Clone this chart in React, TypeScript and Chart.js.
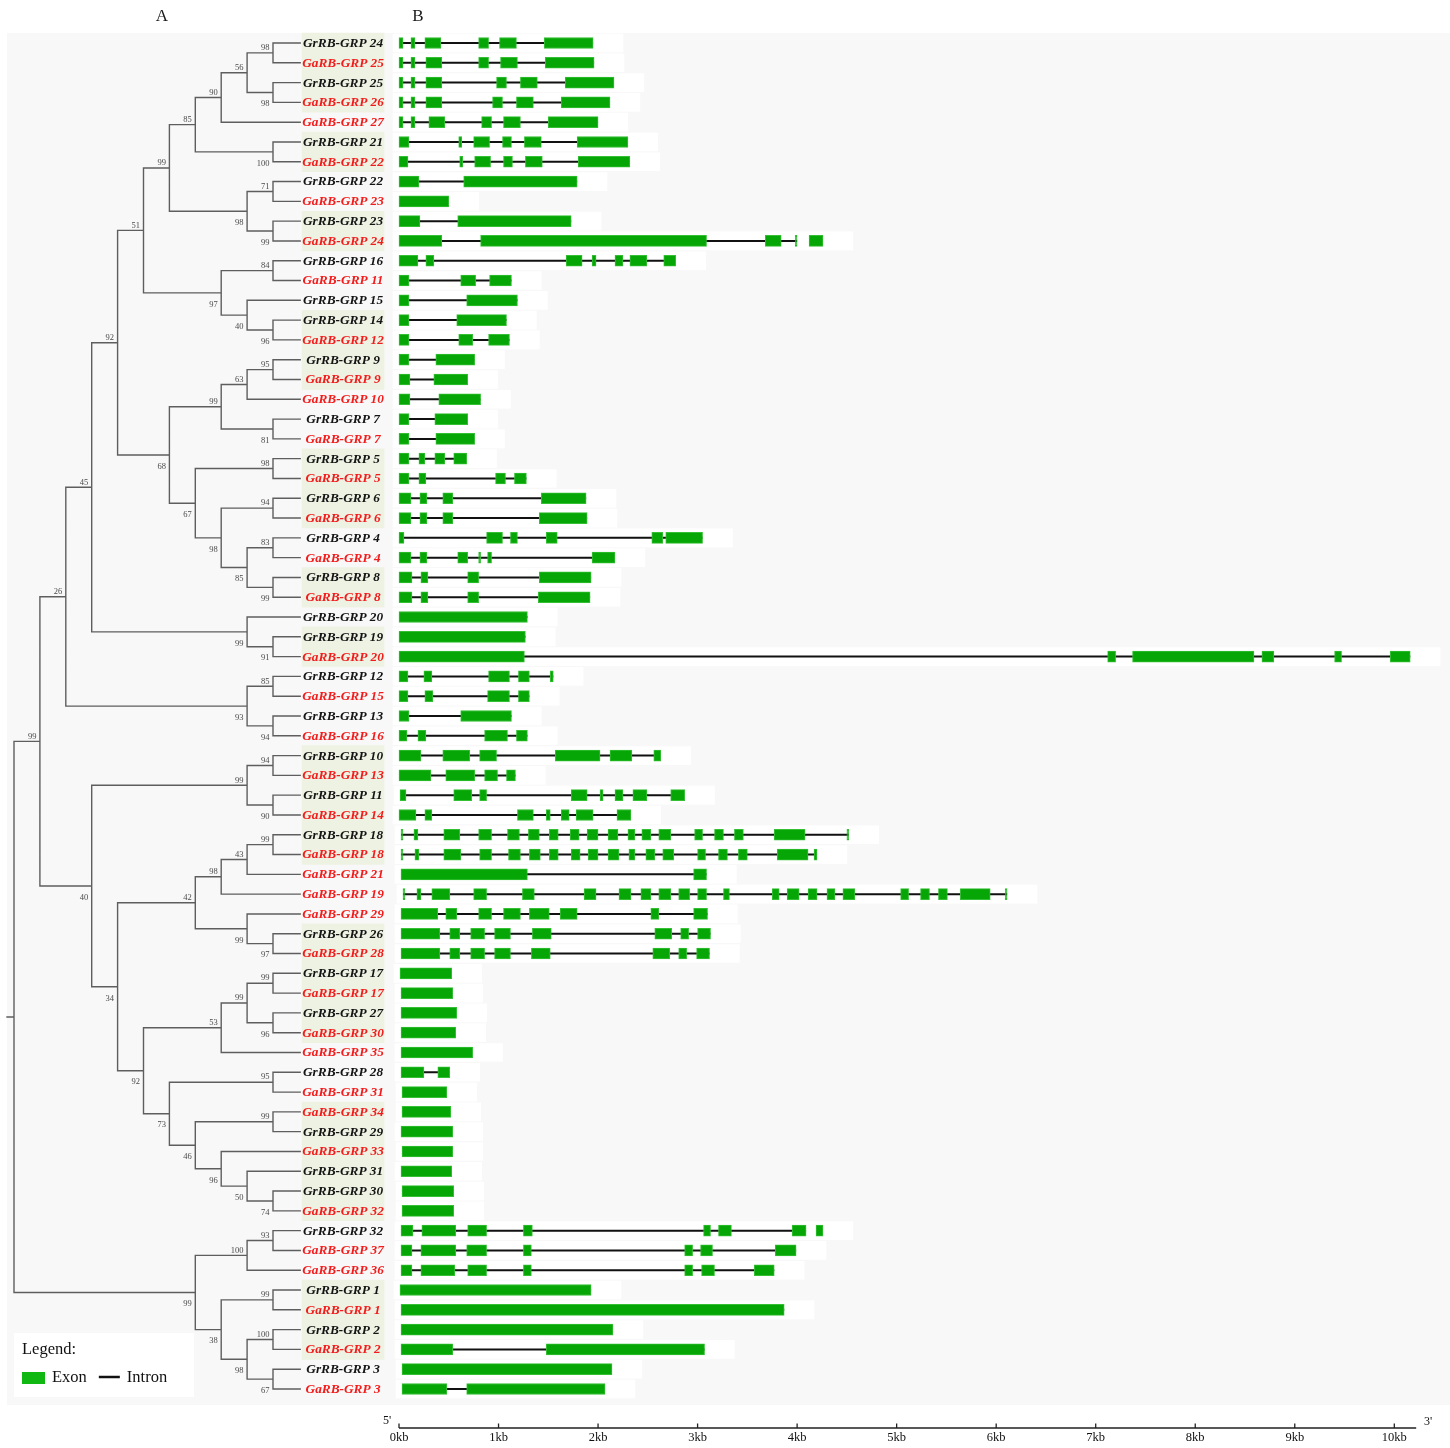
import React, { useEffect, useRef } from 'react';
import { Chart, registerables } from 'chart.js';

Chart.register(...registerables);

// ---------------- DATA ----------------
const GENE_NAMES: string[] = [
  'GrRB-GRP 24', 'GaRB-GRP 25', 'GrRB-GRP 25', 'GaRB-GRP 26', 'GaRB-GRP 27',
  'GrRB-GRP 21', 'GaRB-GRP 22', 'GrRB-GRP 22', 'GaRB-GRP 23', 'GrRB-GRP 23',
  'GaRB-GRP 24', 'GrRB-GRP 16', 'GaRB-GRP 11', 'GrRB-GRP 15', 'GrRB-GRP 14',
  'GaRB-GRP 12', 'GrRB-GRP 9', 'GaRB-GRP 9', 'GaRB-GRP 10', 'GrRB-GRP 7',
  'GaRB-GRP 7', 'GrRB-GRP 5', 'GaRB-GRP 5', 'GrRB-GRP 6', 'GaRB-GRP 6',
  'GrRB-GRP 4', 'GaRB-GRP 4', 'GrRB-GRP 8', 'GaRB-GRP 8', 'GrRB-GRP 20',
  'GrRB-GRP 19', 'GaRB-GRP 20', 'GrRB-GRP 12', 'GaRB-GRP 15', 'GrRB-GRP 13',
  'GaRB-GRP 16', 'GrRB-GRP 10', 'GaRB-GRP 13', 'GrRB-GRP 11', 'GaRB-GRP 14',
  'GrRB-GRP 18', 'GaRB-GRP 18', 'GaRB-GRP 21', 'GaRB-GRP 19', 'GaRB-GRP 29',
  'GrRB-GRP 26', 'GaRB-GRP 28', 'GrRB-GRP 17', 'GaRB-GRP 17', 'GrRB-GRP 27',
  'GaRB-GRP 30', 'GaRB-GRP 35', 'GrRB-GRP 28', 'GaRB-GRP 31', 'GaRB-GRP 34',
  'GrRB-GRP 29', 'GaRB-GRP 33', 'GrRB-GRP 31', 'GrRB-GRP 30', 'GaRB-GRP 32',
  'GrRB-GRP 32', 'GaRB-GRP 37', 'GaRB-GRP 36', 'GrRB-GRP 1', 'GaRB-GRP 1',
  'GrRB-GRP 2', 'GaRB-GRP 2', 'GrRB-GRP 3', 'GaRB-GRP 3',
];

// exon [start, end] in kb, one list per gene (same order as GENE_NAMES)
const EXONS: number[][][] = [
  [[0, 0.04], [0.12, 0.16], [0.26, 0.42], [0.8, 0.9], [1.01, 1.18], [1.46, 1.95]],
  [[0, 0.04], [0.12, 0.16], [0.27, 0.43], [0.8, 0.9], [1.02, 1.19], [1.47, 1.96]],
  [[0, 0.04], [0.12, 0.16], [0.27, 0.43], [0.98, 1.08], [1.22, 1.39], [1.67, 2.16]],
  [[0, 0.04], [0.12, 0.16], [0.27, 0.43], [0.94, 1.04], [1.18, 1.35], [1.63, 2.12]],
  [[0, 0.04], [0.12, 0.16], [0.3, 0.46], [0.83, 0.93], [1.05, 1.22], [1.5, 2.0]],
  [[0, 0.1], [0.6, 0.63], [0.75, 0.91], [1.04, 1.13], [1.26, 1.43], [1.79, 2.3]],
  [[0, 0.09], [0.61, 0.64], [0.76, 0.92], [1.05, 1.14], [1.27, 1.44], [1.8, 2.32]],
  [[0, 0.2], [0.65, 1.79]],
  [[0, 0.5]],
  [[0, 0.21], [0.59, 1.73]],
  [[0, 0.43], [0.82, 3.09], [3.68, 3.84], [3.98, 4.0], [4.12, 4.26]],
  [[0, 0.19], [0.27, 0.35], [1.68, 1.84], [1.94, 1.98], [2.17, 2.25], [2.32, 2.49], [2.66, 2.78]],
  [[0, 0.1], [0.62, 0.77], [0.91, 1.13]],
  [[0, 0.1], [0.68, 1.19]],
  [[0, 0.1], [0.58, 1.08]],
  [[0, 0.1], [0.6, 0.74], [0.9, 1.11]],
  [[0, 0.1], [0.37, 0.76]],
  [[0, 0.11], [0.35, 0.69]],
  [[0, 0.11], [0.4, 0.82]],
  [[0, 0.1], [0.36, 0.69]],
  [[0, 0.1], [0.37, 0.76]],
  [[0, 0.1], [0.2, 0.26], [0.36, 0.46], [0.55, 0.68]],
  [[0, 0.1], [0.2, 0.27], [0.97, 1.07], [1.16, 1.28]],
  [[0, 0.12], [0.21, 0.28], [0.44, 0.54], [1.43, 1.88]],
  [[0, 0.12], [0.21, 0.28], [0.44, 0.54], [1.41, 1.89]],
  [[0, 0.05], [0.88, 1.04], [1.12, 1.19], [1.48, 1.59], [2.54, 2.65], [2.68, 3.05]],
  [[0, 0.12], [0.21, 0.28], [0.59, 0.69], [0.8, 0.82], [0.89, 0.93], [1.94, 2.17]],
  [[0, 0.13], [0.22, 0.29], [0.69, 0.8], [1.41, 1.93]],
  [[0, 0.13], [0.22, 0.29], [0.69, 0.8], [1.4, 1.92]],
  [[0, 1.29]],
  [[0, 1.27]],
  [[0, 1.26], [7.12, 7.2], [7.37, 8.59], [8.67, 8.79], [9.4, 9.47], [9.96, 10.16]],
  [[0, 0.09], [0.25, 0.33], [0.9, 1.11], [1.2, 1.31], [1.52, 1.55]],
  [[0, 0.09], [0.26, 0.34], [0.89, 1.11], [1.2, 1.31]],
  [[0, 0.1], [0.62, 1.13]],
  [[0, 0.08], [0.19, 0.27], [0.86, 1.09], [1.18, 1.29]],
  [[0, 0.22], [0.44, 0.71], [0.81, 0.98], [1.57, 2.02], [2.12, 2.34], [2.56, 2.63]],
  [[0, 0.32], [0.47, 0.76], [0.86, 0.99], [1.08, 1.17]],
  [[0.01, 0.07], [0.55, 0.73], [0.81, 0.88], [1.73, 1.89], [2.02, 2.05], [2.17, 2.25], [2.35, 2.49], [2.73, 2.87]],
  [[0, 0.17], [0.26, 0.33], [1.19, 1.35], [1.48, 1.52], [1.63, 1.71], [1.78, 1.95], [2.19, 2.33]],
  [[0.02, 0.04], [0.15, 0.19], [0.45, 0.61], [0.8, 0.93], [1.09, 1.21], [1.3, 1.41], [1.51, 1.6], [1.72, 1.81], [1.89, 2.0], [2.1, 2.2], [2.3, 2.37], [2.44, 2.53], [2.61, 2.73], [2.97, 3.05], [3.17, 3.26], [3.37, 3.46], [3.77, 4.08], [4.5, 4.52]],
  [[0.02, 0.04], [0.16, 0.2], [0.45, 0.62], [0.81, 0.93], [1.1, 1.22], [1.31, 1.42], [1.51, 1.6], [1.73, 1.82], [1.9, 2.0], [2.1, 2.21], [2.31, 2.37], [2.48, 2.57], [2.65, 2.76], [3.0, 3.08], [3.21, 3.3], [3.41, 3.5], [3.8, 4.11], [4.17, 4.2]],
  [[0.02, 1.29], [2.96, 3.09]],
  [[0.04, 0.06], [0.18, 0.22], [0.33, 0.51], [0.75, 0.88], [1.24, 1.36], [1.86, 1.98], [2.21, 2.33], [2.43, 2.53], [2.61, 2.73], [2.81, 2.92], [3.0, 3.09], [3.26, 3.32], [3.75, 3.82], [3.9, 4.02], [4.11, 4.2], [4.3, 4.38], [4.46, 4.58], [5.04, 5.12], [5.24, 5.33], [5.42, 5.51], [5.64, 5.94], [6.09, 6.11]],
  [[0.02, 0.39], [0.47, 0.58], [0.8, 0.93], [1.05, 1.22], [1.31, 1.51], [1.62, 1.79], [2.53, 2.61], [2.96, 3.1]],
  [[0.02, 0.41], [0.51, 0.61], [0.72, 0.86], [0.96, 1.12], [1.34, 1.53], [2.57, 2.74], [2.83, 2.91], [3.0, 3.13]],
  [[0.02, 0.41], [0.51, 0.61], [0.72, 0.86], [0.96, 1.12], [1.33, 1.52], [2.55, 2.72], [2.81, 2.89], [2.99, 3.12]],
  [[0.01, 0.53]],
  [[0.02, 0.54]],
  [[0.02, 0.58]],
  [[0.02, 0.57]],
  [[0.02, 0.74]],
  [[0.02, 0.25], [0.39, 0.51]],
  [[0.03, 0.48]],
  [[0.03, 0.52]],
  [[0.02, 0.54]],
  [[0.03, 0.54]],
  [[0.02, 0.53]],
  [[0.03, 0.55]],
  [[0.03, 0.55]],
  [[0.02, 0.14], [0.23, 0.57], [0.69, 0.88], [1.25, 1.34], [3.06, 3.13], [3.21, 3.34], [3.95, 4.09], [4.19, 4.26]],
  [[0.02, 0.13], [0.22, 0.57], [0.68, 0.88], [1.25, 1.33], [2.87, 2.95], [3.03, 3.15], [3.78, 3.99]],
  [[0.02, 0.13], [0.22, 0.56], [0.69, 0.88], [1.25, 1.33], [2.87, 2.95], [3.04, 3.17], [3.57, 3.77]],
  [[0.01, 1.93]],
  [[0.02, 3.87]],
  [[0.02, 2.15]],
  [[0.02, 0.54], [1.48, 3.07]],
  [[0.03, 2.14]],
  [[0.03, 0.48], [0.68, 2.07]],
];

// genes whose intron line stops before the last exon (kb)
const INTRON_LINE_END: Record<string, number> = {
  'GaRB-GRP 24': 4.0,
  'GrRB-GRP 32': 4.09,
};

// tree: [upper child, lower child, node level, bootstrap]; L# = leaf row, N# = node
const TREE_NODES: [string, string, number, number | null][] = [
  ['L1', 'L2', 10, 98], ['L3', 'L4', 10, 98], ['N1', 'N2', 9, 56], ['N3', 'L5', 8, 90],
  ['L6', 'L7', 10, 100], ['N4', 'N5', 7, 85], ['L8', 'L9', 10, 71], ['L10', 'L11', 10, 99],
  ['N7', 'N8', 9, 98], ['N6', 'N9', 6, 99], ['L12', 'L13', 10, 84], ['L15', 'L16', 10, 96],
  ['L14', 'N12', 9, 40], ['N11', 'N13', 8, 97], ['N10', 'N14', 5, 51], ['L17', 'L18', 10, 95],
  ['N16', 'L19', 9, 63], ['L20', 'L21', 10, 81], ['N17', 'N18', 8, 99], ['L22', 'L23', 10, 98],
  ['L24', 'L25', 10, 94], ['L26', 'L27', 10, 83], ['L28', 'L29', 10, 99], ['N22', 'N23', 9, 85],
  ['N21', 'N24', 8, 98], ['N20', 'N25', 7, 67], ['N19', 'N26', 6, 68], ['N15', 'N27', 4, 92],
  ['L31', 'L32', 10, 91], ['L30', 'N29', 9, 99], ['N28', 'N30', 3, 45], ['L33', 'L34', 10, 85],
  ['L35', 'L36', 10, 94], ['N32', 'N33', 9, 93], ['N31', 'N34', 2, 26], ['L37', 'L38', 10, 94],
  ['L39', 'L40', 10, 90], ['N36', 'N37', 9, 99], ['L41', 'L42', 10, 99], ['N39', 'L43', 9, 43],
  ['N40', 'L44', 8, 98], ['L46', 'L47', 10, 97], ['L45', 'N42', 9, 99], ['N41', 'N43', 7, 42],
  ['L48', 'L49', 10, 99], ['L50', 'L51', 10, 96], ['N45', 'N46', 9, 99], ['N47', 'L52', 8, 53],
  ['L53', 'L54', 10, 95], ['L55', 'L56', 10, 99], ['L59', 'L60', 10, 74], ['L58', 'N51', 9, 50],
  ['L57', 'N52', 8, 96], ['N50', 'N53', 7, 46], ['N49', 'N54', 6, 73], ['N48', 'N55', 5, 92],
  ['N44', 'N56', 4, 34], ['N38', 'N57', 3, 40], ['N35', 'N58', 1, 99], ['L61', 'L62', 10, 93],
  ['N60', 'L63', 9, 100], ['L64', 'L65', 10, 99], ['L66', 'L67', 10, 100], ['L68', 'L69', 10, 67],
  ['N63', 'N64', 9, 98], ['N62', 'N65', 8, 38], ['N61', 'N66', 7, 99], ['N59', 'N67', 0, null],
];
const LEAF_LEVEL = 11.05;
const ROOT_STUB_LEVEL = -0.27;

// label rows with the pale green highlight (1-based, inclusive)
const GREEN_LABEL_RANGES: [number, number][] = [
  [1, 4], [6, 7], [10, 11], [15, 18], [22, 25], [28, 29], [31, 32], [37, 42], [46, 51], [55, 60], [64, 67],
];

const KB_TICKS = [0, 1, 2, 3, 4, 5, 6, 7, 8, 9, 10];
const AXIS_END_KB = 10.22;

const LEGEND_ITEMS = [
  { label: 'Exon', kind: 'box' },
  { label: 'Intron', kind: 'line' },
];

// ---------------- LAYOUT / STYLE ----------------
const W = 1450;
const H = 1448;
const AXIS_BOX_H = 24;
const FIRST_ROW_PX = 43;
const ROW_PX = 19.794;
const Y_MIN = -FIRST_ROW_PX / ROW_PX;
const Y_MAX = Y_MIN + (H - AXIS_BOX_H) / ROW_PX;
const KB_ZERO_PX = 399;
const KB_PX = 99.53;
const KB_MIN = -KB_ZERO_PX / KB_PX;
const KB_MAX = (W - KB_ZERO_PX) / KB_PX;
const TREE_ORIGIN_PX = 14;
const LEVEL_PX = 25.9;
const XT_MIN = -TREE_ORIGIN_PX / LEVEL_PX;
const XT_MAX = (W - TREE_ORIGIN_PX) / LEVEL_PX;
const LABEL_CENTER_LEVEL = 12.705;

const SERIF = '"Liberation Serif", "Times New Roman", serif';
const EXON_GREEN = '#05a605';
const EXON_EDGE = '#34bf34';
const RED = '#f21c1c';
const BLACK = '#141414';
const TREE_GRAY = '#5e5e5e';
const PANEL_COLOR = '#f8f8f8';

// ---------------- DERIVED ----------------
type Pos = { lvl: number; y: number };
const POS: Record<string, Pos> = {};
GENE_NAMES.forEach((_, i) => { POS['L' + (i + 1)] = { lvl: LEAF_LEVEL, y: i }; });
TREE_NODES.forEach(([a, b, lvl], i) => {
  POS['N' + (i + 1)] = { lvl, y: (POS[a].y + POS[b].y) / 2 };
});
const PARENT_SIDE: Record<string, 'upper' | 'lower'> = {};
TREE_NODES.forEach(([a, b]) => { PARENT_SIDE[a] = 'upper'; PARENT_SIDE[b] = 'lower'; });

const GAP = { x: null as any, y: null as any };

function buildTreePoints() {
  const pts: any[] = [];
  TREE_NODES.forEach(([a, b, lvl]) => {
    const pa = POS[a];
    const pb = POS[b];
    pts.push({ x: pa.lvl, y: pa.y }, { x: lvl, y: pa.y }, { x: lvl, y: pb.y }, { x: pb.lvl, y: pb.y }, GAP);
  });
  const root = POS['N' + TREE_NODES.length];
  pts.push({ x: ROOT_STUB_LEVEL, y: root.y }, { x: root.lvl, y: root.y });
  return pts;
}

function geneLineEnd(i: number) {
  const ex = EXONS[i];
  const o = INTRON_LINE_END[GENE_NAMES[i]];
  return o !== undefined ? o : ex[ex.length - 1][1];
}

function buildIntronPoints() {
  const pts: any[] = [];
  EXONS.forEach((ex, i) => {
    pts.push({ x: ex[0][0], y: i }, { x: geneLineEnd(i), y: i }, GAP);
  });
  return pts;
}

function buildExonBars() {
  const bars: any[] = [];
  EXONS.forEach((ex, i) => ex.forEach(([s, e]) => bars.push({ x: [s, e], y: i })));
  return bars;
}

function buildRowPatches() {
  return EXONS.map((ex, i) => ({ x: [ex[0][0] - 0.06, ex[ex.length - 1][1] + 0.3], y: i }));
}

function buildLabelBand() {
  return GREEN_LABEL_RANGES.map(([a, b]) => ({ x: LABEL_CENTER_LEVEL, y: [a - 1 - 0.5, b - 1 + 0.5] }));
}

const decorPlugin = {
  id: 'decor',
  beforeDraw(chart: any) {
    const { ctx } = chart;
    ctx.save();
    ctx.fillStyle = '#ffffff';
    ctx.fillRect(0, 0, W, H);
    ctx.fillStyle = PANEL_COLOR;
    ctx.fillRect(7, 33, W - 7, 1405 - 33);
    ctx.fillStyle = '#ffffff';
    ctx.fillRect(14, 1333, 180, 64);
    ctx.restore();
  },
  afterDatasetsDraw(chart: any) {
    const { ctx } = chart;
    const xs = chart.scales.x;
    const xt = chart.scales.xt;
    const ys = chart.scales.y;
    ctx.save();

    // gene labels
    ctx.font = `italic bold 13.3px ${SERIF}`;
    ctx.textAlign = 'center';
    ctx.textBaseline = 'middle';
    const lx = xt.getPixelForValue(LABEL_CENTER_LEVEL);
    GENE_NAMES.forEach((name, i) => {
      ctx.fillStyle = name.startsWith('Ga') ? RED : BLACK;
      ctx.fillText(name, lx, ys.getPixelForValue(i) + 0.5);
    });

    // bootstrap values
    ctx.font = `8.5px ${SERIF}`;
    ctx.fillStyle = '#4a4a4a';
    ctx.textAlign = 'right';
    TREE_NODES.forEach(([, , lvl, boot], i) => {
      if (boot === null) return;
      const id = 'N' + (i + 1);
      const p = POS[id];
      const px = xt.getPixelForValue(lvl) - 3.5;
      const py = ys.getPixelForValue(p.y) + (PARENT_SIDE[id] === 'lower' ? 11.5 : -5);
      ctx.fillText(String(boot), px, py);
    });

    // gene-structure axis line with upward ticks
    const axisY = chart.chartArea.bottom + 4;
    ctx.strokeStyle = '#222';
    ctx.lineWidth = 1.3;
    ctx.beginPath();
    ctx.moveTo(xs.getPixelForValue(0), axisY);
    ctx.lineTo(xs.getPixelForValue(AXIS_END_KB), axisY);
    KB_TICKS.forEach((v) => {
      const px = xs.getPixelForValue(v);
      ctx.moveTo(px, axisY);
      ctx.lineTo(px, axisY - 4.5);
    });
    ctx.stroke();

    ctx.fillStyle = '#111';
    ctx.font = `12px ${SERIF}`;
    ctx.textAlign = 'center';
    ctx.fillText("5'", xs.getPixelForValue(0) - 12, axisY - 7);
    ctx.fillText("3'", xs.getPixelForValue(AXIS_END_KB) + 12, axisY - 6);

    // panel headers
    ctx.font = `17px ${SERIF}`;
    ctx.fillStyle = '#1a1a1a';
    ctx.fillText('A', 162, 17);
    ctx.fillText('B', 418, 17);

    // legend
    ctx.textAlign = 'left';
    ctx.font = `16.5px ${SERIF}`;
    ctx.fillStyle = '#111';
    ctx.fillText('Legend:', 22, 1350);
    let x = 22;
    LEGEND_ITEMS.forEach((it) => {
      if (it.kind === 'box') {
        ctx.fillStyle = '#12b812';
        ctx.fillRect(x, 1372, 23, 12);
        x += 30;
      } else {
        ctx.strokeStyle = '#111';
        ctx.lineWidth = 2.5;
        ctx.beginPath();
        ctx.moveTo(x, 1377);
        ctx.lineTo(x + 21, 1377);
        ctx.stroke();
        x += 28;
      }
      ctx.fillStyle = '#111';
      ctx.fillText(it.label, x, 1378);
      x += ctx.measureText(it.label).width + 12;
    });

    ctx.restore();
  },
};

export default function App() {
  const ref = useRef<HTMLCanvasElement>(null);
  useEffect(() => {
    document.body.style.margin = '0';
    const canvas = ref.current;
    if (!canvas) return;
    const chart = new Chart(canvas, {
      type: 'scatter',
      data: {
        datasets: [
          {
            type: 'bar', label: 'rowPatch', indexAxis: 'y', xAxisID: 'x', yAxisID: 'y',
            data: buildRowPatches(), backgroundColor: '#ffffff', borderWidth: 0,
            barThickness: 18, maxBarThickness: 18, grouped: false, order: 6,
          } as any,
          {
            type: 'bar', label: 'labelBand', indexAxis: 'x', xAxisID: 'xt', yAxisID: 'yb',
            data: buildLabelBand(), backgroundColor: '#edf2e3', borderWidth: 0,
            barThickness: 82, maxBarThickness: 82, grouped: false, order: 6,
          } as any,
          {
            type: 'line', label: 'Intron', xAxisID: 'x', yAxisID: 'y',
            data: buildIntronPoints(), borderColor: '#111111', borderWidth: 2,
            pointRadius: 0, spanGaps: false, fill: false, order: 3,
          } as any,
          {
            type: 'bar', label: 'Exon', indexAxis: 'y', xAxisID: 'x', yAxisID: 'y',
            data: buildExonBars(), backgroundColor: EXON_GREEN, borderColor: EXON_EDGE,
            borderWidth: 1, borderSkipped: false, barThickness: 11, maxBarThickness: 11,
            grouped: false, order: 2,
          } as any,
          {
            type: 'line', label: 'tree', xAxisID: 'xt', yAxisID: 'y',
            data: buildTreePoints(), borderColor: TREE_GRAY, borderWidth: 1.4,
            pointRadius: 0, spanGaps: false, fill: false, order: 1,
            borderCapStyle: 'square', borderJoinStyle: 'miter',
          } as any,
        ],
      },
      options: {
        responsive: false,
        animation: false,
        devicePixelRatio: 1,
        events: [],
        layout: { padding: 0, autoPadding: false },
        plugins: { legend: { display: false }, tooltip: { enabled: false }, title: { display: false } },
        scales: {
          x: {
            type: 'linear', position: 'bottom', min: KB_MIN, max: KB_MAX, offset: false,
            grid: { display: false, drawTicks: false, offset: false },
            border: { display: false },
            ticks: {
              autoSkip: false, maxRotation: 0, padding: 6, color: '#111',
              font: { family: SERIF, size: 12.5 },
              callback: (v: any) => `${v}kb`,
            },
            afterBuildTicks: (axis: any) => { axis.ticks = KB_TICKS.map((v) => ({ value: v })); },
            afterFit: (axis: any) => { axis.height = AXIS_BOX_H; },
          },
          xt: { type: 'linear', display: false, min: XT_MIN, max: XT_MAX, offset: false, grid: { offset: false } },
          y: { type: 'linear', display: false, reverse: true, min: Y_MIN, max: Y_MAX, offset: false, grid: { offset: false } },
          yb: { type: 'linear', display: false, reverse: true, min: Y_MIN, max: Y_MAX, offset: false, grid: { offset: false } },
        },
      } as any,
      plugins: [decorPlugin as any],
    });
    return () => chart.destroy();
  }, []);
  return (
    <div style={{ position: 'absolute', left: 0, top: 0, width: W, height: H }}>
      <canvas ref={ref} width={W} height={H} style={{ display: 'block', width: W, height: H }} />
    </div>
  );
}
